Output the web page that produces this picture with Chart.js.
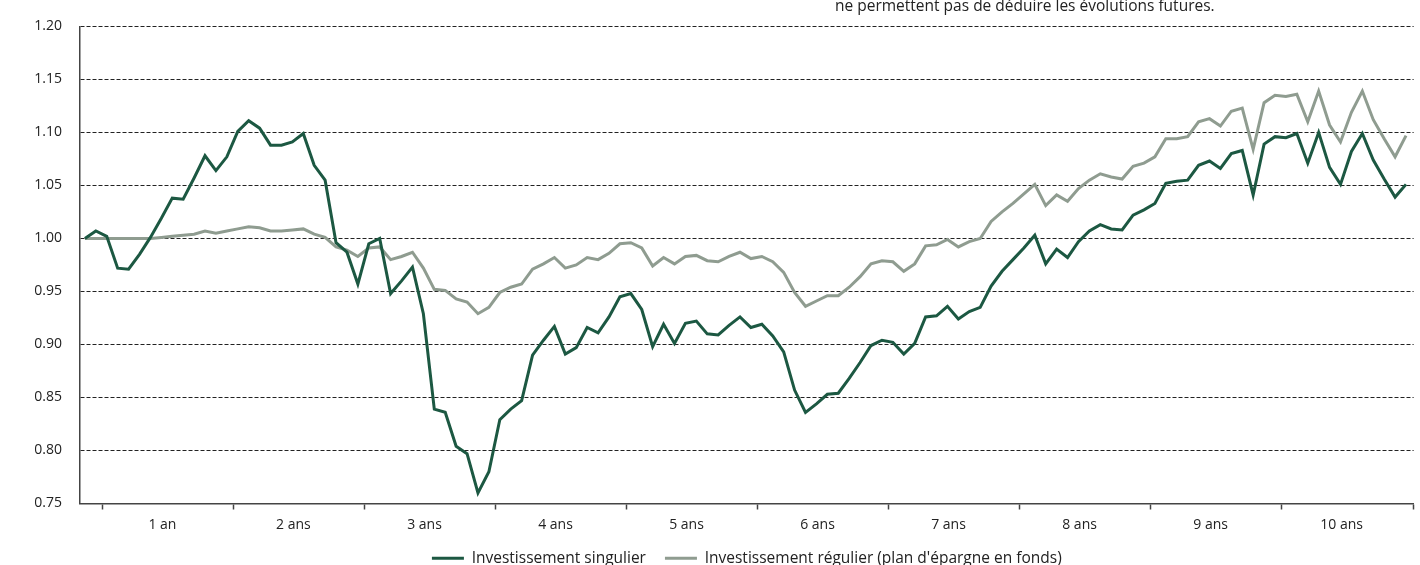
<!DOCTYPE html>
<html>
<head>
<meta charset="utf-8">
<script src="https://cdn.jsdelivr.net/npm/chart.js@4.4.1/dist/chart.umd.min.js"></script>
<style>
  html, body { margin: 0; padding: 0; background: #fff; overflow: hidden; }
  #wrap { position: relative; width: 1420px; height: 565px; overflow: hidden; }
  #cv1 { position: absolute; left: 0; top: 0; }
  #note { position: absolute; left: 835px; top: -6px; font: 15.5px "Open Sans", sans-serif; color: #222; white-space: nowrap; }
</style>
</head>
<body>
<div id="wrap">
  <canvas id="cv1" width="1420" height="576"></canvas>
  <div id="note">ne permettent pas de déduire les évolutions futures.</div>
</div>
<script>
// monthly values, base 1.00 at start
const seriesNames = ['Investissement singulier', 'Investissement régulier (plan d\'épargne en fonds)'];

const singulier = [
  1.000, 1.007, 1.002, 0.972, 0.971, 0.985, 1.001, 1.019, 1.038, 1.037, 1.057, 1.078,
  1.064, 1.077, 1.101, 1.111, 1.104, 1.088, 1.088, 1.091, 1.099, 1.069, 1.055, 0.996,
  0.987, 0.957, 0.995, 1.000, 0.948, 0.960, 0.973, 0.929, 0.839, 0.836, 0.804, 0.797,
  0.760, 0.780, 0.829, 0.839, 0.847, 0.890, 0.904, 0.917, 0.891, 0.897, 0.916, 0.911,
  0.926, 0.945, 0.948, 0.933, 0.898, 0.919, 0.901, 0.920, 0.922, 0.910, 0.909, 0.918,
  0.926, 0.916, 0.919, 0.908, 0.893, 0.857, 0.836, 0.844, 0.853, 0.854, 0.868, 0.883,
  0.899, 0.904, 0.902, 0.891, 0.901, 0.926, 0.927, 0.936, 0.924, 0.931, 0.935, 0.955,
  0.969, 0.980, 0.991, 1.003, 0.976, 0.990, 0.982, 0.997, 1.007, 1.013, 1.009, 1.008,
  1.022, 1.027, 1.033, 1.052, 1.054, 1.055, 1.069, 1.073, 1.066, 1.080, 1.083, 1.041,
  1.089, 1.096, 1.095, 1.099, 1.071, 1.100, 1.067, 1.051, 1.082, 1.099, 1.074, 1.056,
  1.039, 1.051
];

const regulier = [
  1.000, 1.000, 1.000, 1.000, 1.000, 1.000, 1.000, 1.001, 1.002, 1.003, 1.004, 1.007,
  1.005, 1.007, 1.009, 1.011, 1.010, 1.007, 1.007, 1.008, 1.009, 1.004, 1.001, 0.992,
  0.989, 0.983, 0.991, 0.992, 0.980, 0.983, 0.987, 0.972, 0.952, 0.951, 0.943, 0.940,
  0.929, 0.935, 0.949, 0.954, 0.957, 0.971, 0.976, 0.982, 0.972, 0.975, 0.982, 0.980,
  0.986, 0.995, 0.996, 0.991, 0.974, 0.982, 0.976, 0.983, 0.984, 0.979, 0.978, 0.983,
  0.987, 0.981, 0.983, 0.978, 0.968, 0.949, 0.936, 0.941, 0.946, 0.946, 0.954, 0.964,
  0.976, 0.979, 0.978, 0.969, 0.976, 0.993, 0.994, 0.999, 0.992, 0.997, 1.000, 1.016,
  1.025, 1.033, 1.042, 1.051, 1.031, 1.041, 1.035, 1.047, 1.055, 1.061, 1.058, 1.056,
  1.068, 1.071, 1.077, 1.094, 1.094, 1.096, 1.110, 1.113, 1.106, 1.120, 1.123, 1.084,
  1.128, 1.135, 1.134, 1.136, 1.110, 1.139, 1.107, 1.091, 1.119, 1.139, 1.112, 1.094,
  1.077, 1.097
];

const yearLabels = ['1 an', '2 ans', '3 ans', '4 ans', '5 ans', '6 ans', '7 ans', '8 ans', '9 ans', '10 ans'];
const yTicks = [0.75, 0.80, 0.85, 0.90, 0.95, 1.00, 1.05, 1.10, 1.15, 1.20];

const months = singulier.map((v, i) => i);

// x ticks: year boundaries (tick marks) interleaved with year middles (labels)
const xTicks = [];
for (let k = 0; k <= yearLabels.length; k++) {
  xTicks.push(1.64 + 12 * k);
  if (k < yearLabels.length) xTicks.push(7.1 + 12 * k);
}

const green = '#1c5842';
const grey = '#8f9c90';
const font = '"Open Sans", sans-serif';

const ctx = document.getElementById('cv1').getContext('2d');
const chart = new Chart(ctx, {
  type: 'line',
  data: {
    labels: months,
    datasets: [
      { label: seriesNames[0], data: singulier, borderColor: green, backgroundColor: green,
        borderWidth: 3, pointRadius: 0, tension: 0 },
      { label: seriesNames[1], data: regulier, borderColor: grey, backgroundColor: grey,
        borderWidth: 3, pointRadius: 0, tension: 0 }
    ]
  },
  options: {
    responsive: false,
    animation: false,
    layout: { padding: { top: 21, left: 0, right: 0, bottom: 0 } },
    plugins: {
      tooltip: { enabled: false },
      legend: {
        position: 'bottom',
        fullSize: false,
        labels: {
          boxWidth: 32,
          boxHeight: 3,
          padding: 19,
          color: '#222',
          font: { family: font, size: 15.5 },
          generateLabels: c => Chart.defaults.plugins.legend.labels.generateLabels(c)
            .map(l => Object.assign(l, { lineWidth: 0 }))
        }
      }
    },
    scales: {
      x: {
        type: 'linear',
        min: -0.45,
        max: 121.7,
        afterBuildTicks: s => { s.ticks = xTicks.map(v => ({ value: v })); },
        afterFit: s => { s.height = 28; },
        grid: {
          drawOnChartArea: false,
          tickLength: 6,
          tickWidth: 1.5,
          tickColor: c => (c.index % 2 === 0 ? '#444' : 'rgba(0,0,0,0)')
        },
        border: { color: '#444', width: 1.5 },
        ticks: {
          autoSkip: false,
          maxRotation: 0,
          padding: 7,
          color: '#222',
          font: { family: font, size: 14 },
          callback: (v, i) => (i % 2 === 1 ? yearLabels[(i - 1) / 2] : '')
        }
      },
      y: {
        min: 0.75,
        max: 1.20,
        afterBuildTicks: s => { s.ticks = yTicks.map(v => ({ value: v })); },
        afterFit: s => { s.width = 80; },
        grid: { color: '#222', lineWidth: 1, drawTicks: false },
        border: { color: '#444', width: 1.5, dash: [4, 2] },
        ticks: {
          padding: 18,
          color: '#222',
          font: { family: font, size: 14 },
          callback: v => v.toFixed(2)
        }
      }
    }
  }
});
</script>
</body>
</html>
